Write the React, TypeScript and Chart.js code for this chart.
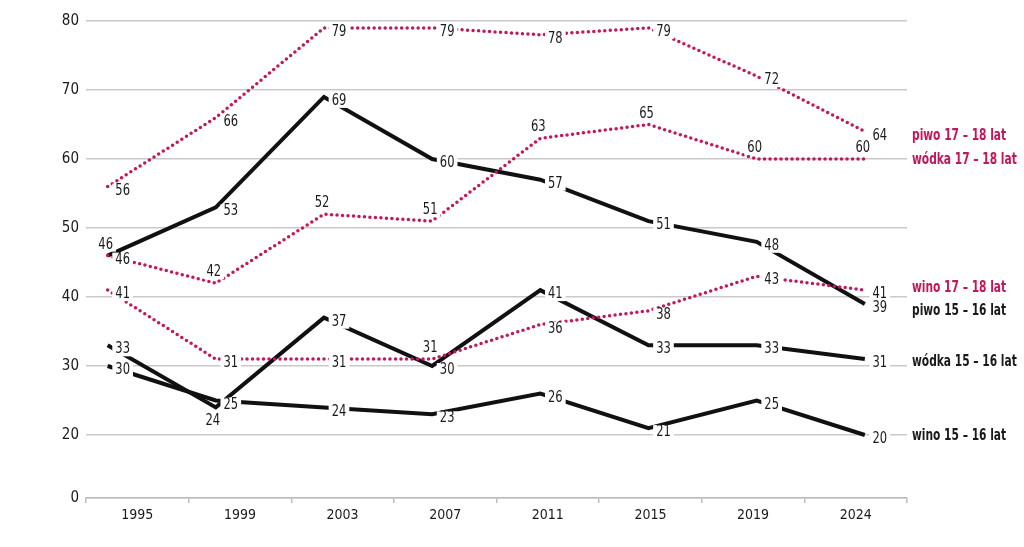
import { useEffect, useRef } from "react";
import { Chart, registerables } from "chart.js";

Chart.register(...registerables);

const years = ["1995", "1999", "2003", "2007", "2011", "2015", "2019", "2024"];
const yTicks = [20, 30, 40, 50, 60, 70, 80];

const piwo1718 = [56, 66, 79, 79, 78, 79, 72, 64];
const wodka1718 = [46, 42, 52, 51, 63, 65, 60, 60];
const wino1718 = [41, 31, 31, 31, 36, 38, 43, 41];
const piwo1516 = [46, 53, 69, 60, 57, 51, 48, 39];
const wodka1516 = [33, 24, 37, 30, 41, 33, 33, 31];
const wino1516 = [30, 25, 24, 23, 26, 21, 25, 20];

const names = [
  "piwo 17 – 18 lat",
  "wódka 17 – 18 lat",
  "wino 17 – 18 lat",
  "piwo 15 – 16 lat",
  "wódka 15 – 16 lat",
  "wino 15 – 16 lat",
];

const MAGENTA = "#c0175d";
const BLACK = "#111111";
const FONT = '"DejaVu Sans Condensed", "Liberation Sans Narrow", "Roboto", sans-serif';

// where each value label sits relative to its point (r = right, a = above, b = below)
const places = [
  ["r", "r", "r", "r", "r", "r", "r", "r"],
  ["r", "a", "a", "a", "a", "a", "a", "a"],
  ["r", "r", "r", "a", "r", "r", "r", "r"],
  ["a", "r", "r", "r", "r", "r", "r", "r"],
  ["r", "b", "r", "r", "r", "r", "r", "r"],
  ["r", "r", "r", "r", "r", "r", "r", "r"],
];
const offsets: Record<string, [number, number]> = { r: [15, 4], a: [-2, -11], b: [-3, 13] };
const nameDy = [4, 1, -2, 7, 3, 1];

// condensed text: draw with a horizontal squeeze
const squeezeText = (ctx: any, t: string, x: number, y: number, sx: number) => {
  ctx.save();
  ctx.translate(x, y);
  ctx.scale(sx, 1);
  ctx.fillText(t, 0, 0);
  ctx.restore();
};

const valueLabels = {
  id: "valueLabels",
  afterDatasetsDraw(chart: any) {
    const ctx = chart.ctx;
    const sx = 0.8;
    ctx.save();
    ctx.font = `16px ${FONT}`;
    ctx.textAlign = "center";
    ctx.textBaseline = "middle";
    const items: { x: number; y: number; t: string }[] = [];
    chart.data.datasets.forEach((ds: any, di: number) => {
      chart.getDatasetMeta(di).data.forEach((pt: any, i: number) => {
        const [dx, dy] = offsets[places[di][i]];
        items.push({ x: pt.x + dx, y: pt.y + dy, t: String(ds.data[i].y) });
      });
    });
    ctx.fillStyle = "#ffffff";
    items.forEach((it) => {
      const w = ctx.measureText(it.t).width * sx;
      ctx.fillRect(it.x - w / 2 - 3, it.y - 7, w + 6, 14);
    });
    ctx.fillStyle = "#1a1a1a";
    items.forEach((it) => squeezeText(ctx, it.t, it.x, it.y, sx));
    ctx.restore();
  },
};

const seriesNames = {
  id: "seriesNames",
  afterDraw(chart: any) {
    const ctx = chart.ctx;
    const ys = chart.scales.y;
    ctx.save();
    ctx.font = `600 16px ${FONT}`;
    ctx.textAlign = "left";
    ctx.textBaseline = "middle";
    chart.data.datasets.forEach((ds: any, di: number) => {
      const last = ds.data[ds.data.length - 1].y;
      ctx.fillStyle = di < 3 ? MAGENTA : "#1a1a1a";
      squeezeText(ctx, names[di], chart.chartArea.right + 5, ys.getPixelForValue(last) + nameDy[di], 0.74);
    });
    ctx.restore();
  },
};

const toPoints = (arr: number[]) => arr.map((v, i) => ({ x: i, y: v }));

export default function App() {
  const canvasRef = useRef<HTMLCanvasElement | null>(null);
  useEffect(() => {
    if (!canvasRef.current) return;
    const dotted = (data: number[]) => ({
      data: toPoints(data),
      borderColor: MAGENTA,
      borderWidth: 3.5,
      borderDash: [0, 5.5],
      borderCapStyle: "round" as const,
      pointRadius: 0,
      tension: 0,
    });
    const solid = (data: number[]) => ({
      data: toPoints(data),
      borderColor: BLACK,
      borderWidth: 4,
      borderJoinStyle: "miter" as const,
      pointRadius: 0,
      tension: 0,
    });
    const chart = new Chart(canvasRef.current, {
      type: "line",
      data: {
        labels: years,
        datasets: [
          dotted(piwo1718),
          dotted(wodka1718),
          dotted(wino1718),
          solid(piwo1516),
          solid(wodka1516),
          solid(wino1516),
        ] as any,
      },
      options: {
        animation: false,
        responsive: true,
        maintainAspectRatio: false,
        layout: { padding: { top: 21, right: 117, left: 0, bottom: 0 } },
        plugins: { legend: { display: false }, tooltip: { enabled: false } },
        scales: {
          x: { type: "linear", min: -0.2, max: 7.39, display: false },
          years: {
            type: "category",
            position: "bottom",
            offset: true,
            grid: { offset: true, drawOnChartArea: false, tickLength: 5, color: "#bdbdbd", lineWidth: 1.5 },
            border: { display: true, color: "#bdbdbd", width: 1.5 },
            ticks: { color: "#1a1a1a", font: { family: FONT, size: 14 }, padding: 4 },
            afterFit: (s: any) => {
              s.height = 49;
            },
          },
          y: {
            min: 10.87,
            max: 80,
            afterBuildTicks: (s: any) => {
              s.ticks = [10.87, ...yTicks].map((v) => ({ value: v }));
            },
            afterFit: (s: any) => {
              s.width = 86;
            },
            grid: { color: "#c9c9c9", lineWidth: 1.5, drawTicks: false },
            border: { display: false },
            ticks: {
              color: "#1a1a1a",
              font: { family: FONT, size: 15 },
              padding: 7,
              callback: (v: any) => (v < 15 ? "0" : String(v)),
            },
          },
        } as any,
      },
      plugins: [valueLabels, seriesNames],
    });
    return () => chart.destroy();
  }, []);
  return (
    <div style={{ position: "absolute", left: 0, top: 0, width: 1024, height: 547, background: "#fff" }}>
      <canvas ref={canvasRef} />
    </div>
  );
}
